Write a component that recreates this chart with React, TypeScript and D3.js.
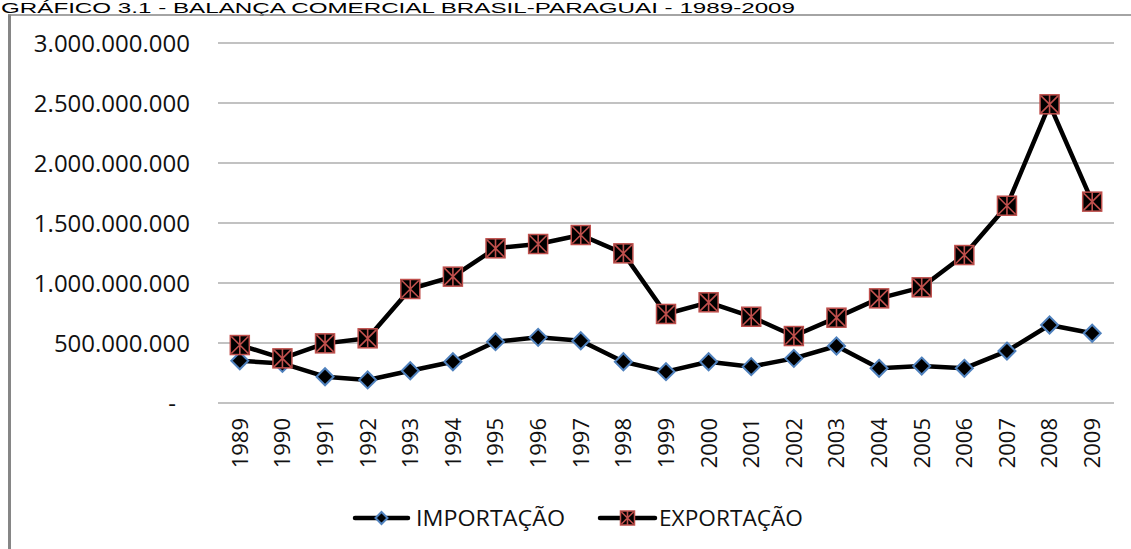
import React from "react";
import * as d3 from "d3";

const years = ["1989","1990","1991","1992","1993","1994","1995","1996","1997","1998","1999","2000","2001","2002","2003","2004","2005","2006","2007","2008","2009"];
const importacao = [352e6,330e6,219e6,192e6,269e6,344e6,511e6,547e6,519e6,344e6,261e6,344e6,303e6,372e6,475e6,289e6,308e6,289e6,433e6,650e6,581e6];
const exportacao = [483e6,372e6,497e6,539e6,950e6,1053e6,1289e6,1325e6,1400e6,1247e6,742e6,839e6,719e6,558e6,711e6,872e6,964e6,1233e6,1644e6,2489e6,1678e6];
const yTicks = [0, 500e6, 1000e6, 1500e6, 2000e6, 2500e6, 3000e6];
const title = "GRÁFICO 3.1 - BALANÇA COMERCIAL BRASIL-PARAGUAI - 1989-2009";
const seriesNames = ["IMPORTAÇÃO", "EXPORTAÇÃO"];

const W = 1131, H = 549;
const RED = "#C0504D", BLUE = "#4F81BD", GRID = "#868686";
const FONT = "'Open Sans', sans-serif";

const fmt = (v: number) => v === 0 ? "-" : d3.format(",")(v).replace(/,/g, ".");

function Diamond({ x, y, s = 8.5 }: { x: number; y: number; s?: number }) {
  return <path d={`M${x},${y - s}L${x + s},${y}L${x},${y + s}L${x - s},${y}Z`} fill="#000" stroke={BLUE} strokeWidth={2} />;
}
function StarSquare({ x, y, s = 9.5 }: { x: number; y: number; s?: number }) {
  const a = s - 1;
  return (
    <g>
      <rect x={x - s} y={y - s} width={2 * s} height={2 * s} fill="#000" stroke={RED} strokeWidth={1.5} />
      <path d={`M${x - a},${y - a}L${x + a},${y + a}M${x + a},${y - a}L${x - a},${y + a}M${x},${y - s}L${x},${y + s}`} stroke={RED} strokeWidth={1.6} />
    </g>
  );
}

export default function App() {
  const x = d3.scaleBand<string>().domain(years).range([218.5, 1113.5]).padding(0);
  const y = d3.scaleLinear().domain([0, 3e9]).range([403, 43]);
  const cx = (d: string) => (x(d) as number) + x.bandwidth() / 2;
  const line = d3.line<number>().x((_, i) => cx(years[i])).y((v) => y(v));

  return (
    <svg width={W} height={H} style={{ position: "absolute", left: 0, top: 0, background: "#fff" }}>
      <rect width={W} height={H} fill="#fff" />
      <text x={1} y={13} fontFamily="'Liberation Sans', Arial, sans-serif" fontSize={15.5} textLength={794} lengthAdjust="spacingAndGlyphs" fill="#000">{title}</text>
      {/* chart frame */}
      <line x1={8} x2={W} y1={15} y2={15} stroke={GRID} strokeWidth={1.5} />
      <line x1={9.5} x2={9.5} y1={14.5} y2={H} stroke={GRID} strokeWidth={3} />
      {/* gridlines */}
      {yTicks.map((t) => (
        <g key={t}>
          <line x1={218} x2={1114} y1={y(t)} y2={y(t)} stroke={GRID} strokeWidth={1.2} />
          <text x={t === 0 ? 176 : 190} y={y(t)} dy="0.36em" textAnchor="end" fontFamily={FONT} fontSize={24} fill="#111">{fmt(t)}</text>
        </g>
      ))}
      {/* x labels */}
      {years.map((yr) => (
        <text key={yr} transform={`translate(${cx(yr)},418) rotate(-90)`} dy="0.36em" textAnchor="end" fontFamily={FONT} fontSize={22} fill="#111">{yr}</text>
      ))}
      {/* series */}
      <path d={line(importacao) as string} fill="none" stroke="#000" strokeWidth={4.5} strokeLinejoin="round" />
      {importacao.map((v, i) => <Diamond key={i} x={cx(years[i])} y={y(v)} />)}
      <path d={line(exportacao) as string} fill="none" stroke="#000" strokeWidth={4.5} strokeLinejoin="round" />
      {exportacao.map((v, i) => <StarSquare key={i} x={cx(years[i])} y={y(v)} />)}
      {/* legend */}
      <line x1={355} x2={408} y1={518} y2={518} stroke="#000" strokeWidth={4.5} strokeLinecap="round" />
      <Diamond x={381.5} y={518} s={6} />
      <text x={416} y={518} dy="0.36em" fontFamily={FONT} fontSize={21} textLength={149} lengthAdjust="spacingAndGlyphs" fill="#111">{seriesNames[0]}</text>
      <line x1={600} x2={655} y1={518} y2={518} stroke="#000" strokeWidth={4.5} strokeLinecap="round" />
      <StarSquare x={627.5} y={518} s={7} />
      <text x={659} y={518} dy="0.36em" fontFamily={FONT} fontSize={21} textLength={144} lengthAdjust="spacingAndGlyphs" fill="#111">{seriesNames[1]}</text>
    </svg>
  );
}
